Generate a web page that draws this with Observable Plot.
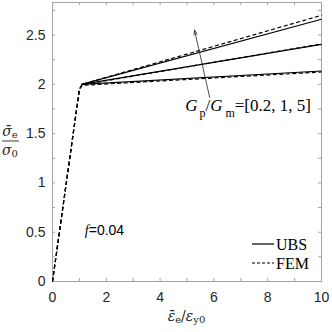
<!DOCTYPE html>
<html>
<head>
<meta charset="utf-8">
<script src="https://cdn.jsdelivr.net/npm/d3@7"></script>
<script src="https://cdn.jsdelivr.net/npm/@observablehq/plot@0.6"></script>
<style>
  html, body { margin: 0; padding: 0; background: #fff; }
</style>
</head>
<body>
<script>
// ---- data ----
const ratios = ["0.2", "1", "5"];
const ubsStrain = [1.08, 10];
const ubsStress02 = [2.0, 2.135];
const ubsStress1 = [2.0, 2.405];
const ubsStress5 = [2.0, 2.66];
const femStrain = [0, 1.0, 1.1, 10];
const femStress02 = [0, 1.95, 1.99, 2.125];
const femStress1 = [0, 1.95, 1.995, 2.41];
const femStress5 = [0, 1.95, 2.0, 2.70];
const xTickLabels = [0, 2, 4, 6, 8, 10];
const yTickLabels = [0, 0.5, 1, 1.5, 2, 2.5];
const xMinorTicks = [0, 1, 2, 3, 4, 5, 6, 7, 8, 9, 10];
const yMinorTicks = [0, 0.25, 0.5, 0.75, 1, 1.25, 1.5, 1.75, 2, 2.25, 2.5, 2.75];
const arrowTail = [5.84, 1.87];
const arrowTip = [5.28, 2.55];
const annotText = [{x: 4.95, y: 1.72}];
const fText = [{x: 1.22, y: 0.47}];

// ---- table ----
const ubsSeries = [ubsStress02, ubsStress1, ubsStress5];
const femSeries = [femStress02, femStress1, femStress5];
const rows = [];
ratios.forEach((r, i) => {
  ubsStrain.forEach((s, j) => rows.push({strain: s, stress: ubsSeries[i][j], ratio: r, model: "UBS"}));
  femStrain.forEach((s, j) => rows.push({strain: s, stress: femSeries[i][j], ratio: r, model: "FEM"}));
});
const ubsRows = rows.filter(d => d.model === "UBS");
const femRows = rows.filter(d => d.model === "FEM");

const W = 332, H = 332, mL = 52, mR = 11, mT = 2, mB = 51;
const innerW = W - mL - mR, innerH = H - mT - mB;
const tl = 3;
const frameColor = "#a3a3a3";
const textColor = "#262626";

const svg = Plot.plot({
  width: W, height: H,
  marginLeft: mL, marginRight: mR, marginTop: mT, marginBottom: mB,
  style: {fontFamily: "'Liberation Sans', Arial, sans-serif", fontSize: "14px", color: textColor, background: "#fff"},
  x: {domain: [0, 10]},
  y: {domain: [0, 2.83]},
  marks: [
    Plot.frame({stroke: frameColor, strokeWidth: 1}),
    Plot.tickX(xMinorTicks, {x: d => d, insetTop: innerH - tl, stroke: frameColor}),
    Plot.tickX(xMinorTicks, {x: d => d, insetBottom: innerH - tl, stroke: frameColor}),
    Plot.tickY(yMinorTicks, {y: d => d, insetRight: innerW - tl, stroke: frameColor}),
    Plot.tickY(yMinorTicks, {y: d => d, insetLeft: innerW - tl, stroke: frameColor}),
    Plot.axisX({ticks: xTickLabels, tickSize: 0, tickPadding: 11, label: null, fontSize: 14, fill: textColor}),
    Plot.axisY({ticks: yTickLabels, tickSize: 0, tickPadding: 7, label: null, fontSize: 14, fill: textColor, tickFormat: d => String(d)}),
    Plot.line(ubsRows, {x: "strain", y: "stress", z: "ratio", stroke: "#000", strokeWidth: 1.2, strokeLinecap: "butt"}),
    Plot.line(femRows, {x: "strain", y: "stress", z: "ratio", stroke: "#000", strokeWidth: 1.2, strokeDasharray: "4,2.5", strokeLinecap: "butt", strokeLinejoin: "miter"}),
    Plot.arrow([0], {x1: () => arrowTail[0], y1: () => arrowTail[1], x2: () => arrowTip[0], y2: () => arrowTip[1], stroke: "#222", strokeWidth: 0.8, headAngle: 35, headLength: 9})
  ]
});
document.body.appendChild(svg);

const sel = d3.select(svg);
const xs = v => mL + v / 10 * innerW;
const ys = v => mT + innerH - v / 2.83 * innerH;

// annotation G_p/G_m
const ann = sel.append("text")
  .attr("x", xs(annotText[0].x)).attr("y", ys(annotText[0].y))
  .attr("text-anchor", "start")
  .attr("font-family", "'Liberation Serif', 'Times New Roman', serif")
  .attr("font-size", 17).attr("fill", "#000");
ann.append("tspan").attr("font-style", "italic").text("G");
ann.append("tspan").attr("font-size", 12).attr("dx", 2).attr("dy", 6).text("p");
ann.append("tspan").attr("dy", -6).text("/");
ann.append("tspan").attr("font-style", "italic").text("G");
ann.append("tspan").attr("font-size", 12).attr("dx", 3).attr("dy", 6).text("m");
ann.append("tspan").attr("dy", -6).text("=[0.2, 1, 5]");

// f=0.04
const ft = sel.append("text")
  .attr("x", xs(fText[0].x)).attr("y", ys(fText[0].y))
  .attr("text-anchor", "start")
  .attr("font-size", 14).attr("fill", "#000")
  .attr("font-family", "'Liberation Sans', Arial, sans-serif");
ft.append("tspan").attr("font-family", "'Liberation Serif', serif").attr("font-style", "italic").text("f");
ft.append("tspan").text("=0.04");

// legend
const legend = [{name: "UBS", dash: null, y: 244}, {name: "FEM", dash: "3,2", y: 263}];
legend.forEach(l => {
  sel.append("line").attr("x1", 252).attr("x2", 274).attr("y1", l.y).attr("y2", l.y)
    .attr("stroke", "#000").attr("stroke-width", 1.2).attr("stroke-dasharray", l.dash);
  sel.append("text").attr("x", 276).attr("y", l.y + 5.5)
    .attr("text-anchor", "start")
    .attr("font-family", "'Liberation Serif', 'Times New Roman', serif")
    .attr("font-size", 16).attr("fill", "#000").text(l.name);
});

// y label (fraction)
const serif = "'DejaVu Serif', 'Liberation Serif', serif";
const num = sel.append("text").attr("x", 10).attr("y", 136).attr("text-anchor", "middle")
  .attr("font-family", serif).attr("font-size", 14).attr("fill", textColor);
num.append("tspan").attr("font-style", "italic").text("σ\u0304");
num.append("tspan").attr("font-size", 10).attr("dy", 2).text("e");
sel.append("line").attr("x1", 2).attr("x2", 19).attr("y1", 141).attr("y2", 141)
  .attr("stroke", textColor).attr("stroke-width", 0.9);
const den = sel.append("text").attr("x", 10).attr("y", 155).attr("text-anchor", "middle")
  .attr("font-family", serif).attr("font-size", 14).attr("fill", textColor);
den.append("tspan").attr("font-style", "italic").text("σ");
den.append("tspan").attr("font-size", 10).attr("dy", 2).text("0");

// x label
const xl = sel.append("text").attr("x", mL + innerW / 2).attr("y", 321).attr("text-anchor", "middle")
  .attr("font-family", serif).attr("font-size", 14).attr("fill", textColor);
xl.append("tspan").attr("font-style", "italic").text("ε\u0304");
xl.append("tspan").attr("font-size", 10).attr("dy", 2).text("e");
xl.append("tspan").attr("dy", -2).text("/");
xl.append("tspan").attr("font-style", "italic").text("ε");
xl.append("tspan").attr("font-size", 10).attr("dy", 2).text("y0");
</script>
</body>
</html>
